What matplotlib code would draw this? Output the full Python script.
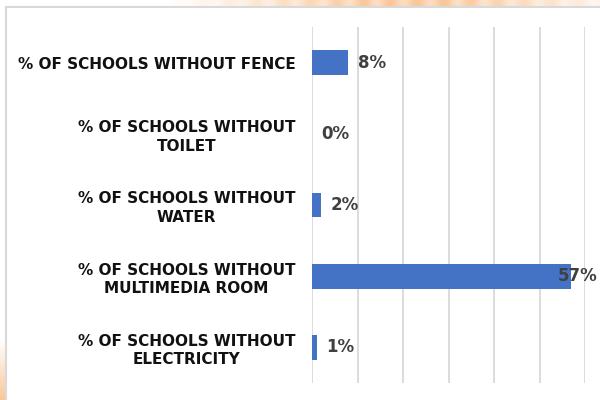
import numpy as np
import matplotlib.pyplot as plt
from matplotlib.patches import Rectangle

categories = [
    "% OF SCHOOLS WITHOUT FENCE",
    "% OF SCHOOLS WITHOUT\nTOILET",
    "% OF SCHOOLS WITHOUT\nWATER",
    "% OF SCHOOLS WITHOUT\nMULTIMEDIA ROOM",
    "% OF SCHOOLS WITHOUT\nELECTRICITY",
]
values = [8, 0, 2, 57, 1]
value_labels = ["8%", "0%", "2%", "57%", "1%"]

plt.rcParams['font.family'] = ['DejaVu Sans']

fig = plt.figure(figsize=(6, 4), dpi=100)
fig.patch.set_facecolor("white")

# peach backdrop peeking out around the chart frame
bg = fig.add_axes([0, 0, 1, 1], zorder=0)
bg.set_axis_off()
h, w = 400, 600
img = np.ones((h, w, 3))
peach = np.array([0.98, 0.78, 0.60])
xs = np.linspace(0, 1, w)
top_amt = np.clip((xs - 0.28) * 3, 0, 1) * (0.6 + 0.4 * np.sin(xs * 70) ** 2)
top_amt = np.where(xs > 0.75, top_amt * np.clip(1 - (xs - 0.75) * 3, 0.2, 1), top_amt)
for r in range(8):
    img[r] = 1 - np.outer(top_amt, 1 - peach)
ys = np.linspace(0, 1, h)
left_amt = np.clip((ys - 0.85) / 0.15, 0, 1)
for c in range(7):
    img[:, c] = 1 - np.outer(left_amt, 1 - peach)
bg.imshow(img, extent=[0, 1, 0, 1], aspect="auto")
bg.add_patch(Rectangle((6 / w, -0.1), 1.1, 1.1 - 7 / h, transform=bg.transAxes,
                       facecolor="white", edgecolor="#d9d9d9", linewidth=1.5, zorder=2))
bg.set_xlim(0, 1)
bg.set_ylim(0, 1)

ax = fig.add_axes([312 / 600, 17 / 400, 273 / 600, 356 / 400], zorder=1)
ax.patch.set_alpha(0)
y = np.arange(len(categories))
ax.barh(y, values, height=0.35, color="#4472C4", zorder=3)
ax.set_xlim(0, 60)
ax.set_ylim(len(categories) - 0.5, -0.5)
ax.set_xticks(np.arange(0, 61, 10))
ax.xaxis.grid(True, color="#d9d9d9", linewidth=1.3)
ax.tick_params(axis="x", length=0, labelbottom=False)
ax.tick_params(axis="y", length=0, pad=12)
for s in ax.spines.values():
    s.set_visible(False)
ax.set_yticks(y)
ax.set_yticklabels(categories, fontsize=11, fontweight="bold", color="#111111",
                   multialignment="center", linespacing=1.3)

for yi, v, lab in zip(y, values, value_labels):
    if v > 50:
        ax.annotate(lab, (v, yi), xytext=(19, 0), textcoords="offset points",
                    ha="right", va="center", fontsize=12, fontweight="bold", color="#404040")
    else:
        ax.annotate(lab, (v, yi), xytext=(7, 0), textcoords="offset points",
                    ha="left", va="center", fontsize=12, fontweight="bold", color="#404040")

fig.savefig("out.png", dpi=100)
